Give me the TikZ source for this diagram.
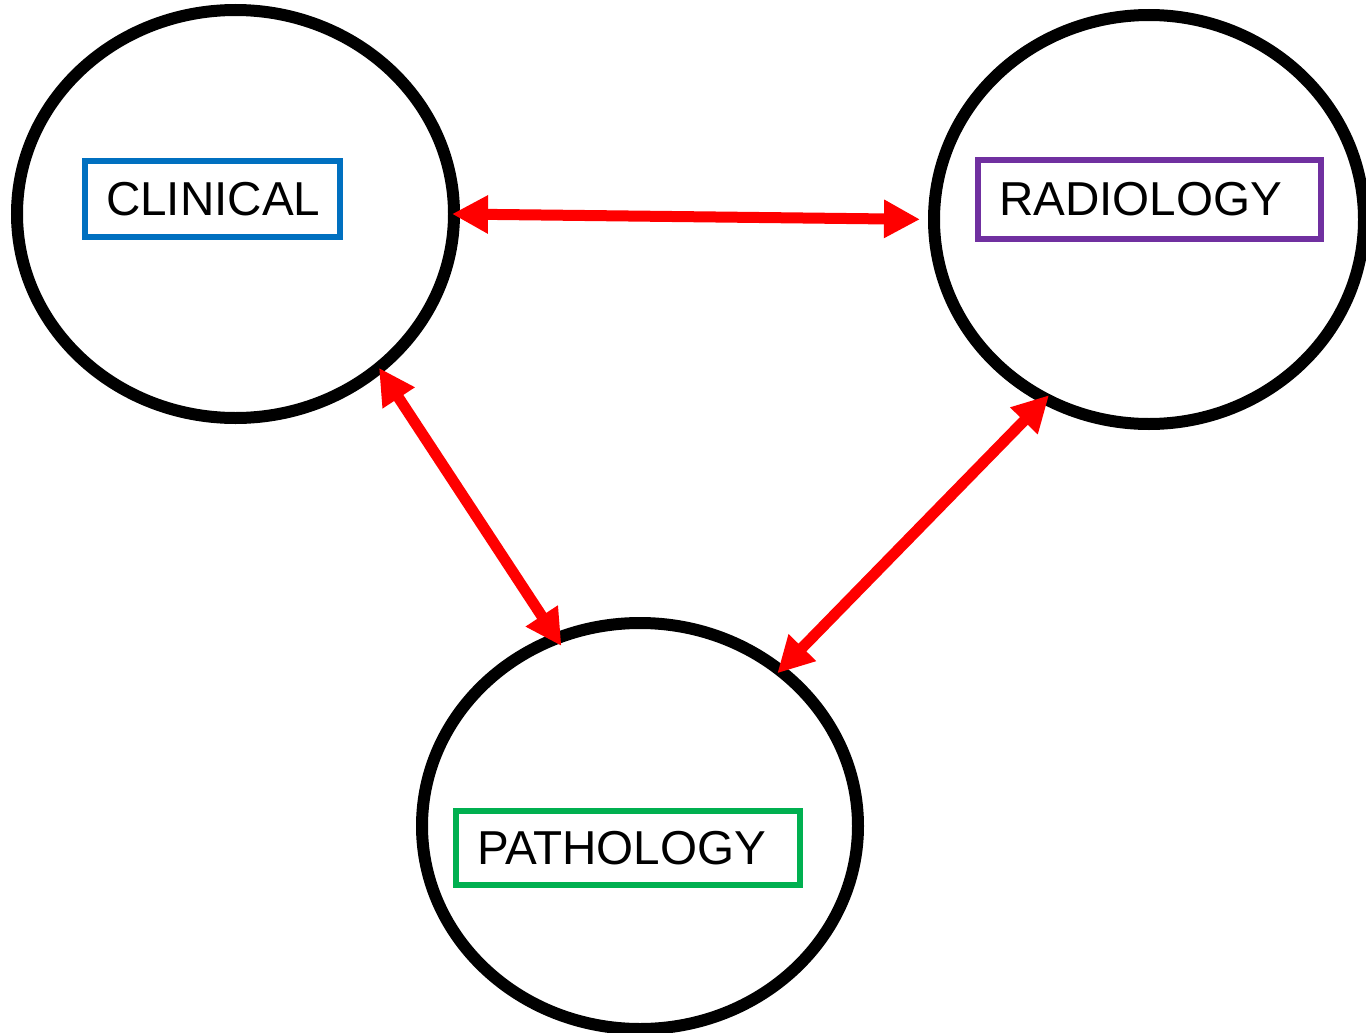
\documentclass[tikz,border=0pt]{standalone}
\usepackage{fontspec}
\setmainfont{Liberation Sans}
\usetikzlibrary{shapes.geometric,arrows.meta}
\definecolor{clinblue}{RGB}{0,112,192}
\definecolor{radpurple}{RGB}{112,48,160}
\definecolor{pathgreen}{RGB}{0,176,80}
\tikzset{
  field/.style={ellipse, draw=black, line width=6pt, inner sep=0pt, outer sep=0pt},
  tag/.style={draw, line width=3pt, inner xsep=10.5pt, inner ysep=0pt, outer sep=0pt,
    align=left, font=\fontsize{23.8}{28}\selectfont},
  link/.style={draw=red, line width=5.5pt,
    {Triangle[length=18pt,width=18pt]}-{Triangle[length=18pt,width=18pt]}}
}
\begin{document}
\begin{tikzpicture}[x=0.5pt, y=-0.5pt]
\useasboundingbox (0,0) rectangle (1366,1033);
% Clinical
\node[field, minimum width=218.5pt, minimum height=204pt] (clinical) at (235.5,214) {};
\node[tag, draw=clinblue, text width=106.5pt, minimum height=38pt] (clinicaltag) at (212.5,199) {CLINICAL};

% Radiology
\node[field, minimum width=215pt, minimum height=204.5pt] (radiology) at (1149,219.5) {};
\node[tag, draw=radpurple, text width=150.5pt, minimum height=39.5pt] (radiologytag) at (1149.5,199.5) {RADIOLOGY};

% Pathology
\node[field, minimum width=218pt, minimum height=203pt] (pathology) at (640,826) {};
\node[tag, draw=pathgreen, text width=151pt, minimum height=37pt] (pathologytag) at (628,848) {PATHOLOGY};

% Links
\draw[link, shorten <=-1pt, shorten >=7pt] (clinical.east) -- (radiology.west);
\draw[link, shorten >=-4.5pt] (clinical.-47) -- (pathology.114.4);
\draw[link, shorten <=-2.5pt, shorten >=-2pt] (radiology.240.8) -- (pathology.48.9);
\end{tikzpicture}
\end{document}
